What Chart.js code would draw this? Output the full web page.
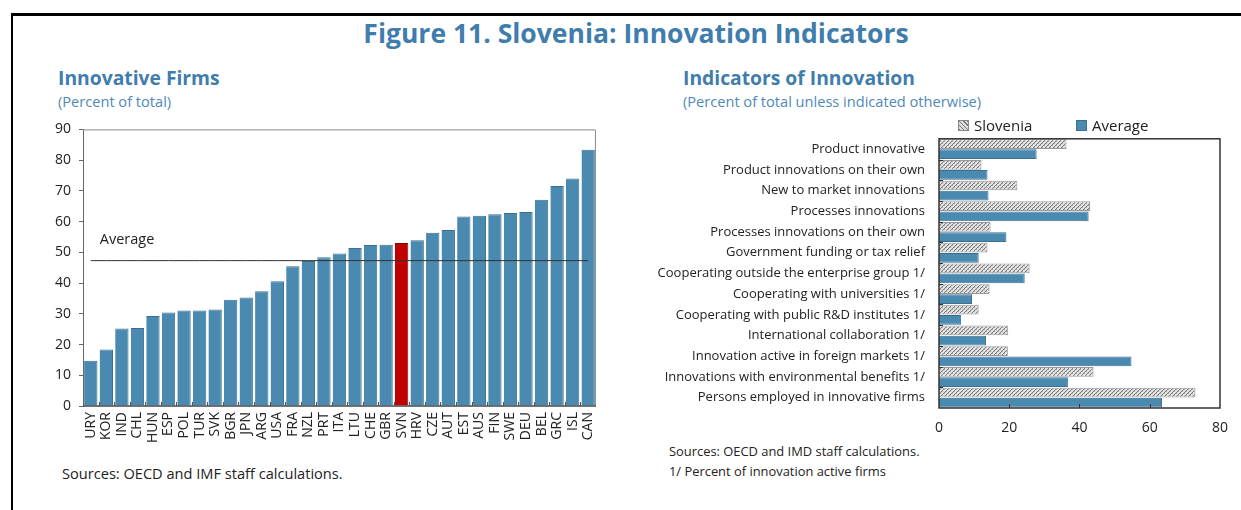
<!DOCTYPE html>
<html>
<head>
<meta charset="utf-8">
<script src="https://cdn.jsdelivr.net/npm/chart.js@4/dist/chart.umd.min.js"></script>
<style>
  html, body { margin: 0; padding: 0; background: #fff; }
  body { width: 1241px; height: 510px; position: relative; overflow: hidden; font-family: "Open Sans", "Noto Sans", sans-serif; color: #222; }
  .frame { position: absolute; left: 11px; top: 13px; width: 1240px; height: 510px; border-left: 2px solid #000; border-top: 3px solid #000; }
  .t { position: absolute; white-space: nowrap; }
  #title { left: 0; width: 1272px; top: 15px; text-align: center; font-weight: 700; font-size: 26.5px; color: #3F7DAD; }
  .sub { font-weight: 700; font-size: 19.3px; color: #3F7DAD; }
  .unit { font-size: 14.6px; color: #4F88BA; }
  .note { font-size: 14.6px; color: #222; }
  .note2 { font-size: 12.9px; color: #222; }
  #c1 { position: absolute; left: 40px; top: 113px; }
  #c2 { position: absolute; left: 640px; top: 117px; }
  .leg { position: absolute; top: 115px; font-size: 15px; color: #222; display: flex; align-items: center; }
  .sw { width: 11px; height: 11px; margin-right: 5px; box-sizing: border-box; }
  .sw.hatch { border: 1px solid #888; background: repeating-linear-gradient(45deg, #777 0 1px, #ddd 1px 3px); }
  .sw.blue { background: #4A8AB0; border: 1px solid #3A6F8F; }
</style>
</head>
<body>
<div class="frame"></div>
<div class="t" id="title">Figure 11. Slovenia: Innovation Indicators</div>
<div class="t sub" style="left:58px; top:64px;">Innovative Firms</div>
<div class="t unit" style="left:58px; top:91px;">(Percent of total)</div>
<div class="t sub" style="left:683px; top:64px;">Indicators of Innovation</div>
<div class="t unit" style="left:683px; top:91px;">(Percent of total unless indicated otherwise)</div>
<canvas id="c1" width="571" height="345"></canvas>
<canvas id="c2" width="600" height="323"></canvas>
<div class="leg" style="left:958px;"><div class="sw hatch"></div>Slovenia</div>
<div class="leg" style="left:1076px;"><div class="sw blue"></div>Average</div>
<div class="t note" style="left:62px; top:463px;">Sources: OECD and IMF staff calculations.</div>
<div class="t note2" style="left:669px; top:442px;">Sources: OECD and IMD staff calculations.</div>
<div class="t note2" style="left:669px; top:462px;">1/ Percent of innovation active firms</div>
<script>
// ---- Left chart data ----
const countries = ["URY","KOR","IND","CHL","HUN","ESP","POL","TUR","SVK","BGR","JPN","ARG","USA","FRA","NZL","PRT","ITA","LTU","CHE","GBR","SVN","HRV","CZE","AUT","EST","AUS","FIN","SWE","DEU","BEL","GRC","ISL","CAN"];
const innovativeFirms = [14.7,18.4,25.2,25.4,29.3,30.4,31.1,31.1,31.4,34.6,35.3,37.3,40.6,45.5,47.2,48.4,49.6,51.4,52.4,52.5,53.0,53.9,56.4,57.3,61.7,61.9,62.4,62.8,63.1,67.1,71.6,74.0,83.4];
const averageValue = 47.3;
const highlightCountry = "SVN";
const leftTicks = [0,10,20,30,40,50,60,70,80,90];

// ---- Right chart data ----
const indicators = ["Product innovative","Product innovations on their own","New to market innovations","Processes innovations","Processes innovations on their own","Government funding or tax relief","Cooperating outside the enterprise group 1/","Cooperating with universities 1/","Cooperating with public R&D institutes 1/","International collaboration 1/","Innovation active in foreign markets 1/","Innovations with environmental benefits 1/","Persons employed in innovative firms"];
const slovenia = [36.3,12.1,22.3,43.0,14.7,13.8,25.8,14.4,11.3,19.7,19.6,44.0,73.0];
const average = [27.8,13.8,14.1,42.6,19.2,11.3,24.4,9.4,6.3,13.4,54.8,36.7,63.5];
const rightTicks = [0,20,40,60,80];

const BLUE = '#4A8AB0', BLUE_B = '#3A6F8F', RED = '#C00000', RED_B = '#8A0000';
const FONT = '"Open Sans", "Noto Sans", sans-serif';
Chart.defaults.font.family = FONT;
Chart.defaults.color = '#222';
Chart.defaults.animation = false;

function hatchPattern() {
  const c = document.createElement('canvas');
  c.width = 4; c.height = 4;
  const g = c.getContext('2d');
  g.fillStyle = '#e2e2e2'; g.fillRect(0,0,4,4);
  g.fillStyle = '#7a7a7a';
  for (let i = 0; i < 4; i++) g.fillRect(i, 3 - i, 1, 1);
  g.fillStyle = '#b0b0b0';
  g.fillRect(0,0,1,1); g.fillRect(2,2,1,1);
  return g.createPattern(c, 'repeat');
}

const frameLeft = {
  id: 'frameLeft',
  afterDatasetsDraw(chart) {
    const {ctx, chartArea: a, scales} = chart;
    ctx.save();
    ctx.strokeStyle = '#8a8a8a'; ctx.lineWidth = 1;
    ctx.beginPath();
    ctx.moveTo(a.left, a.top + 0.5); ctx.lineTo(a.right - 0.5, a.top + 0.5); ctx.lineTo(a.right - 0.5, a.bottom);
    ctx.stroke();
    ctx.strokeStyle = '#444'; ctx.lineWidth = 1.5;
    ctx.beginPath(); ctx.moveTo(a.left, a.bottom); ctx.lineTo(a.right, a.bottom); ctx.stroke();
    const xs = scales.x; const n = countries.length;
    ctx.strokeStyle = '#555'; ctx.lineWidth = 1;
    for (let i = 1; i < n; i++) {
      const px = Math.round((xs.getPixelForValue(i - 1) + xs.getPixelForValue(i)) / 2) + 0.5;
      ctx.beginPath(); ctx.moveTo(px, a.bottom); ctx.lineTo(px, a.bottom - 4); ctx.stroke();
    }
    const y = scales.y.getPixelForValue(averageValue);
    ctx.fillStyle = '#222'; ctx.font = '14.5px ' + FONT; ctx.textBaseline = 'middle'; ctx.textAlign = 'left';
    ctx.fillText('Average', xs.getPixelForValue(0) + 9, y - 21);
    ctx.restore();
  }
};

new Chart(document.getElementById('c1'), {
  type: 'bar',
  data: {
    labels: countries,
    datasets: [
      {
        type: 'line',
        data: countries.map(() => averageValue),
        borderColor: '#333', borderWidth: 1, pointRadius: 0, order: 0
      },
      {
        type: 'bar',
        data: innovativeFirms,
        backgroundColor: countries.map(c => c === highlightCountry ? RED : BLUE),
        borderColor: countries.map(c => c === highlightCountry ? RED_B : BLUE_B),
        borderWidth: {top: 1, left: 0, right: 1, bottom: 0},
        barPercentage: 0.86, categoryPercentage: 1.0, order: 1
      }
    ]
  },
  options: {
    responsive: false,
    layout: { padding: { top: 5, right: 3 } },
    plugins: { legend: { display: false }, tooltip: { enabled: false } },
    scales: {
      x: {
        grid: { display: false, drawTicks: false },
        border: { display: false },
        ticks: { maxRotation: 90, minRotation: 90, autoSkip: false, padding: 6, font: { size: 14 }, color: '#222' },
        afterFit(s) { s.height = 52; }
      },
      y: {
        min: 0, max: 90,
        afterBuildTicks(s) { s.ticks = leftTicks.map(v => ({value: v})); },
        grid: { drawOnChartArea: false, drawTicks: true, tickLength: 4, color: '#666' },
        border: { display: true, color: '#666', width: 1 },
        ticks: { padding: 8, font: { size: 14 }, color: '#222' },
        afterFit(s) { s.width = 43; }
      }
    }
  },
  plugins: [frameLeft]
});

const frameRight = {
  id: 'frameRight',
  afterDatasetsDraw(chart) {
    const {ctx, chartArea: a, scales} = chart;
    ctx.save();
    ctx.strokeStyle = '#333'; ctx.lineWidth = 1.5;
    ctx.strokeRect(a.left, a.top, a.right - a.left, a.bottom - a.top);
    ctx.strokeStyle = '#333'; ctx.lineWidth = 1;
    for (const v of rightTicks.slice(1, -1)) {
      const px = Math.round(scales.x.getPixelForValue(v)) + 0.5;
      ctx.beginPath(); ctx.moveTo(px, a.bottom); ctx.lineTo(px, a.bottom - 4); ctx.stroke();
    }
    const ys = scales.y; const n = indicators.length;
    for (let i = 1; i < n; i++) {
      const py = Math.round((ys.getPixelForValue(i - 1) + ys.getPixelForValue(i)) / 2) + 0.5;
      ctx.beginPath(); ctx.moveTo(a.left, py); ctx.lineTo(a.left + 4, py); ctx.stroke();
    }
    ctx.restore();
  }
};

new Chart(document.getElementById('c2'), {
  type: 'bar',
  data: {
    labels: indicators,
    datasets: [
      { label: 'Slovenia', data: slovenia, backgroundColor: hatchPattern(), borderColor: '#9a9a9a', borderWidth: 1,
        barPercentage: 0.96, categoryPercentage: 0.98 },
      { label: 'Average', data: average, backgroundColor: BLUE, borderColor: '#3A6F8F', borderWidth: 1,
        barPercentage: 0.96, categoryPercentage: 0.98 }
    ]
  },
  options: {
    indexAxis: 'y',
    responsive: false,
    layout: { padding: { top: 9, right: 14 } },
    plugins: { legend: { display: false }, tooltip: { enabled: false } },
    scales: {
      x: {
        min: 0, max: 80,
        afterBuildTicks(s) { s.ticks = rightTicks.map(v => ({value: v})); },
        grid: { display: false, drawTicks: false },
        border: { display: false },
        ticks: { padding: 12, font: { size: 14 }, color: '#222' },
        afterFit(s) { s.height = 32; }
      },
      y: {
        grid: { display: false, drawTicks: false },
        border: { display: false },
        ticks: { autoSkip: false, padding: 14, font: { size: 13 }, color: '#222' },
        afterFit(s) { s.width = 299; }
      }
    }
  },
  plugins: [frameRight]
});
</script>
</body>
</html>
